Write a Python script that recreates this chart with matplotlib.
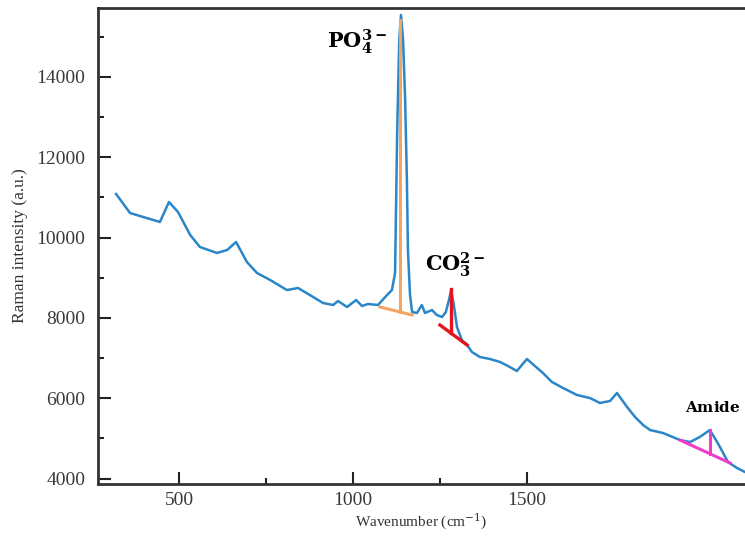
import numpy as np
import matplotlib
matplotlib.use("Agg")
import matplotlib.pyplot as plt
from matplotlib.ticker import MultipleLocator, FixedLocator

plt.rcParams['font.family'] = ['Liberation Serif', 'DejaVu Serif']
plt.rcParams['mathtext.fontset'] = 'dejavuserif'

# spectrum (axis units as labelled)
wavenumber = [319, 359, 397, 445, 471, 497, 532, 560, 609, 638, 664, 695, 724, 762,
              810, 842, 876, 914, 943, 957, 983, 1009, 1026, 1043, 1072, 1098, 1112,
              1121, 1127, 1133, 1138, 1144, 1150, 1155, 1158, 1164, 1170, 1184, 1198,
              1207, 1227, 1241, 1256, 1267, 1276, 1282, 1290, 1299, 1313, 1328, 1342,
              1365, 1394, 1423, 1451, 1471, 1500, 1523, 1546, 1572, 1604, 1644, 1681,
              1710, 1739, 1759, 1788, 1811, 1834, 1854, 1891, 1940, 1969, 1997, 2026,
              2040, 2055, 2078, 2104, 2127]
intensity = [11087, 10614, 10514, 10390, 10888, 10639, 10066, 9767, 9618, 9692, 9891,
             9394, 9120, 8945, 8696, 8746, 8572, 8373, 8323, 8422, 8273, 8447, 8298,
             8348, 8323, 8572, 8696, 9120, 12606, 14921, 15544, 14921, 13427, 11435,
             9692, 8572, 8149, 8124, 8323, 8124, 8198, 8074, 8024, 8149, 8447, 8696,
             8323, 7775, 7451, 7327, 7152, 7028, 6978, 6904, 6779, 6679, 6978, 6804,
             6630, 6406, 6256, 6082, 6007, 5883, 5933, 6132, 5783, 5534, 5335, 5210,
             5136, 4961, 4911, 5036, 5210, 5011, 4787, 4413, 4264, 4164]

# peak baselines and heights
po4_base_x = [1078, 1170]
po4_base_y = [8273, 8074]
po4_peak_x = [1135, 1135]
po4_peak_y = [8160, 15419]

co3_base_x = [1250, 1328]
co3_base_y = [7825, 7327]
co3_peak_x = [1282, 1282]
co3_peak_y = [7626, 8721]

amide_base_x = [1940, 2084]
amide_base_y = [4961, 4389]
amide_peak_x = [2026, 2026]
amide_peak_y = [4619, 5210]

x_major = [500, 1000, 1500]
x_minor = [750, 1250]

fig = plt.figure(figsize=(7.45, 5.40), dpi=100)
ax = fig.add_axes([98 / 745, 56 / 540, 1 - 98 / 745, 476 / 540])

ax.plot(wavenumber, intensity, color='#2b86c8', lw=1.8, zorder=2)
ax.plot(po4_base_x, po4_base_y, color='#f2a463', lw=2.2, zorder=3)
ax.plot(po4_peak_x, po4_peak_y, color='#f2a463', lw=2.2, zorder=3)
ax.plot(co3_base_x, co3_base_y, color='#e3141c', lw=2.4, zorder=3)
ax.plot(co3_peak_x, co3_peak_y, color='#e3141c', lw=2.4, zorder=3)
ax.plot(amide_base_x, amide_base_y, color='#ef3ccb', lw=2.2, zorder=3)
ax.plot(amide_peak_x, amide_peak_y, color='#ef3ccb', lw=2.2, zorder=3)

ax.text(1012, 14872, r'$\mathbf{PO_4^{3-}}$', fontsize=15, ha='center', va='center')
ax.text(1293, 9319, r'$\mathbf{CO_3^{2-}}$', fontsize=15, ha='center', va='center')
ax.text(2035, 5783, r'$\mathbf{Amide}$', fontsize=11, ha='center', va='center')

ax.set_xlim(267, 2127)
ax.set_ylim(3866, 15718)
ax.xaxis.set_major_locator(FixedLocator(x_major))
ax.xaxis.set_minor_locator(FixedLocator(x_minor))
ax.yaxis.set_major_locator(MultipleLocator(2000))
ax.yaxis.set_minor_locator(MultipleLocator(1000))
ax.tick_params(which='both', direction='in', width=1.5, color='#222222',
               labelsize=14, labelcolor='#3a3a3a', top=False, right=False)
ax.tick_params(which='major', length=9, pad=6)
ax.tick_params(which='minor', length=4.5)
ax.tick_params(axis='y', pad=9)

for side in ['left', 'bottom', 'top']:
    ax.spines[side].set_linewidth(2)
    ax.spines[side].set_color('#333333')
ax.spines['right'].set_visible(False)

ax.set_xlabel('Wavenumber (cm$^{-1}$)', fontsize=11, color='#333333', labelpad=2)
ax.set_ylabel('Raman intensity (a.u.)', fontsize=12.5, color='#333333', labelpad=6)

fig.savefig('out.png', dpi=100)
